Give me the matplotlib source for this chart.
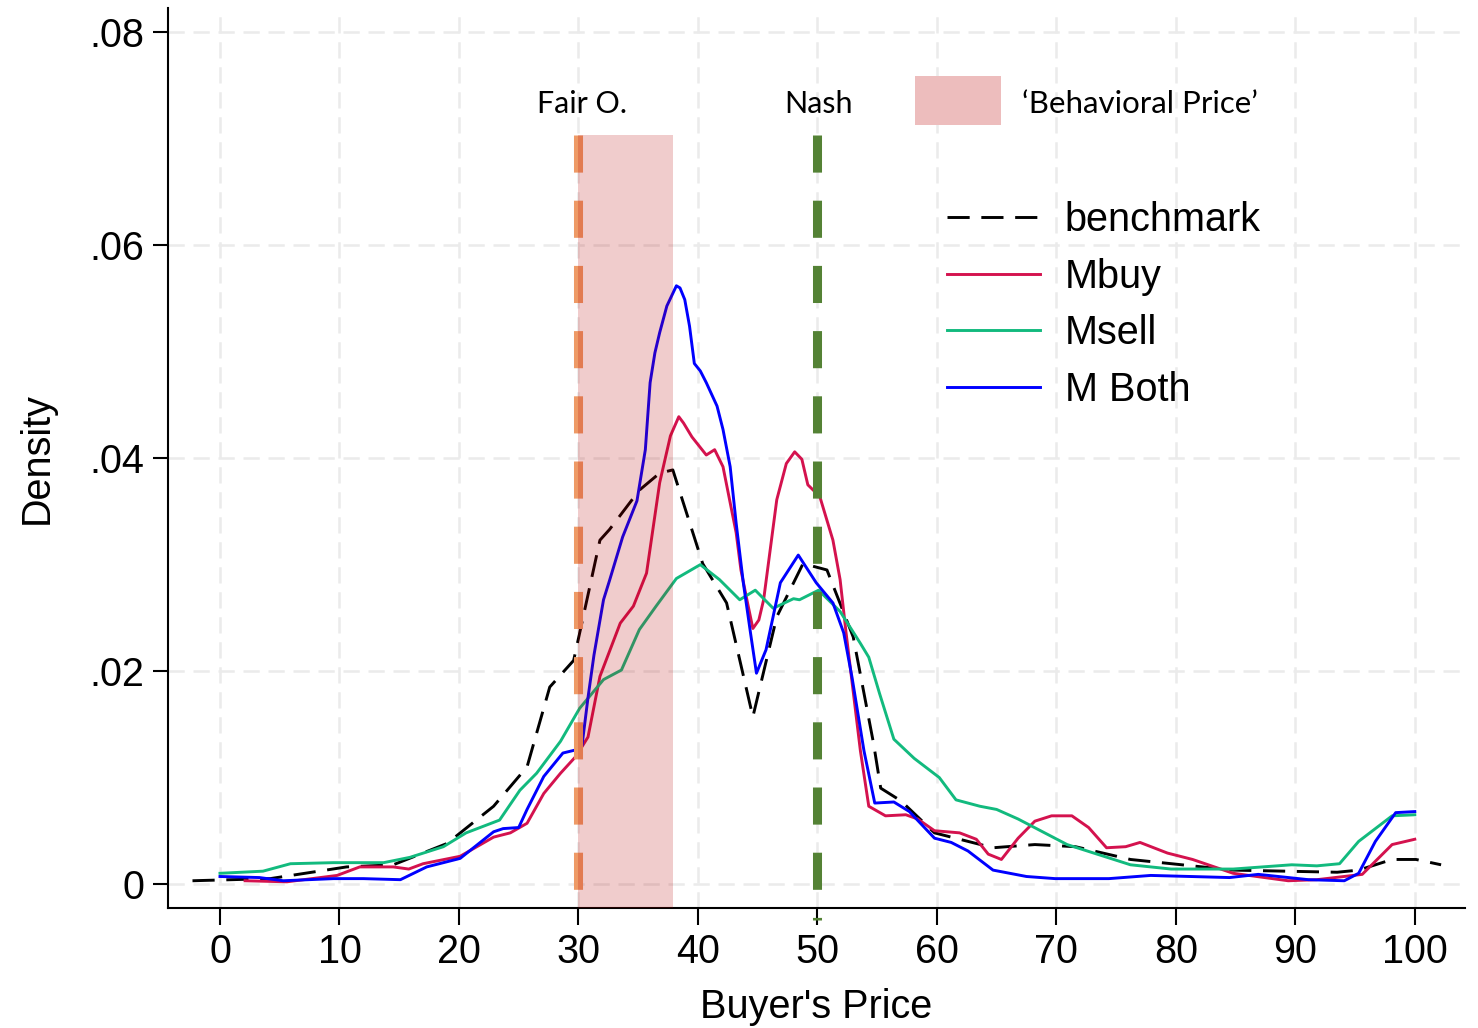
import matplotlib
matplotlib.use("Agg")
import matplotlib.pyplot as plt
from matplotlib.patches import Rectangle

# ---------------- data ----------------
bench_x = [-2.3, 4.2, 10.6, 14.5, 19.0, 22.9, 25.7, 27.6, 29.6, 30.4,
           31.8, 32.6, 35.1, 36.8, 37.9, 40.4, 42.4, 44.6, 46.6, 48.8,
           50.8, 53.0, 54.7, 55.3, 57.0, 59.8, 64.7, 68.2, 71.6, 76.2,
           84.8, 93.5, 95.3, 98.1, 100.1, 102.2]
bench_y = [0.0003, 0.0005, 0.0016, 0.0018, 0.0038, 0.0073, 0.0110, 0.0185, 0.0210, 0.0251,
           0.0323, 0.0333, 0.0370, 0.0386, 0.0389, 0.0301, 0.0264, 0.0157, 0.0251, 0.0301,
           0.0295, 0.0232, 0.0132, 0.0090, 0.0078, 0.0048, 0.0034, 0.0037, 0.0035, 0.0023,
           0.0013, 0.0011, 0.0013, 0.0023, 0.0023, 0.0018]

mbuy_x = [2.1, 5.6, 9.8, 11.7, 14.5, 15.8, 17.0, 20.1, 22.9, 24.3,
          25.7, 27.1, 28.5, 29.8, 30.8, 31.8, 33.5, 34.6, 35.7, 36.8,
          37.7, 38.4, 38.8, 39.5, 40.7, 41.4, 42.1, 43.2, 43.6, 44.1,
          44.6, 45.1, 45.5, 46.6, 47.4, 48.1, 48.7, 49.2, 50.2, 51.3,
          51.9, 52.4, 53.6, 54.3, 55.7, 57.4, 58.4, 59.8,
          61.9, 63.3, 64.3, 65.4, 66.8, 68.2, 69.6, 71.3, 72.7, 74.2,
          75.8, 77.0, 79.3, 81.4, 84.8, 89.4, 91.8, 95.6, 98.1, 100.0]
mbuy_y = [0.0003, 0.0002, 0.0008, 0.0016, 0.0016, 0.0014, 0.0019, 0.0026, 0.0044, 0.0048,
          0.0057, 0.0085, 0.0104, 0.0120, 0.0138, 0.0195, 0.0245, 0.0261, 0.0292, 0.0377,
          0.0421, 0.0439, 0.0433, 0.0420, 0.0403, 0.0408, 0.0392, 0.0330, 0.0295, 0.0267,
          0.0240, 0.0248, 0.0267, 0.0361, 0.0395, 0.0406, 0.0399, 0.0375, 0.0364, 0.0323,
          0.0286, 0.0236, 0.0125, 0.0073, 0.0064, 0.0065, 0.0061, 0.0050,
          0.0048, 0.0042, 0.0028, 0.0023, 0.0043, 0.0059, 0.0064, 0.0064, 0.0053, 0.0034,
          0.0035, 0.0039, 0.0029, 0.0023, 0.0010, 0.0003, 0.0004, 0.0009, 0.0037, 0.0042]

msell_x = [0.0, 3.6, 5.9, 9.5, 13.7, 15.9, 18.7, 20.6, 23.4, 25.1,
           26.5, 28.5, 30.1, 32.1, 33.6, 35.1, 36.5, 38.2, 40.2, 41.8,
           43.5, 44.8, 46.3, 48.0, 48.5, 50.1, 51.9, 53.6, 54.3, 55.2, 56.4,
           58.1, 60.2, 61.6, 63.6, 65.0, 66.8, 70.9, 76.2, 79.6, 84.8,
           89.7, 91.8, 93.7, 95.3, 98.1, 100.0]
msell_y = [0.0010, 0.0012, 0.0019, 0.0020, 0.0020, 0.0025, 0.0035, 0.0048, 0.0060, 0.0088,
           0.0104, 0.0134, 0.0165, 0.0192, 0.0201, 0.0239, 0.0261, 0.0287, 0.0300, 0.0286,
           0.0267, 0.0276, 0.0259, 0.0268, 0.0267, 0.0276, 0.0256, 0.0226, 0.0213, 0.0179, 0.0136,
           0.0118, 0.0100, 0.0079, 0.0073, 0.0070, 0.0061, 0.0037, 0.0018, 0.0014, 0.0014,
           0.0018, 0.0017, 0.0019, 0.0040, 0.0064, 0.0065]

mboth_x = [0.0, 3.3, 5.3, 9.5, 12.0, 15.1, 17.3, 20.1, 22.9, 23.7,
           25.0, 25.7, 27.1, 28.7, 29.8, 30.3, 30.8, 31.3, 32.1, 32.6,
           33.7, 34.9, 35.6, 36.0, 36.4, 36.8, 37.4, 38.2, 38.5, 38.9,
           39.3, 39.7, 40.2, 40.7, 41.6, 42.1, 42.7, 43.2, 43.8, 44.4,
           44.9, 45.7, 46.9, 48.4, 49.9, 51.3, 52.2, 52.9, 53.9,
           54.8, 56.4, 57.7, 59.8, 61.2, 62.6, 64.7, 67.5, 69.9, 74.4,
           77.9, 84.5, 86.9, 91.1, 94.1, 95.3, 96.7, 98.4, 100.0]
mboth_y = [0.0007, 0.0006, 0.0003, 0.0005, 0.0005, 0.0004, 0.0016, 0.0024, 0.0049, 0.0052,
           0.0053, 0.0070, 0.0101, 0.0123, 0.0126, 0.0130, 0.0175, 0.0215, 0.0267, 0.0285,
           0.0326, 0.0360, 0.0408, 0.0471, 0.0499, 0.0518, 0.0543, 0.0562, 0.0560, 0.0549,
           0.0524, 0.0489, 0.0482, 0.0471, 0.0449, 0.0427, 0.0392, 0.0339, 0.0283, 0.0236,
           0.0198, 0.0220, 0.0283, 0.0309, 0.0283, 0.0264, 0.0236, 0.0194, 0.0125,
           0.0076, 0.0077, 0.0068, 0.0043, 0.0039, 0.0031, 0.0013, 0.0007, 0.0005, 0.0005,
           0.0008, 0.0006, 0.0009, 0.0004, 0.0003, 0.0010, 0.0040, 0.0067, 0.0068]

series_labels = ["benchmark", "Mbuy", "Msell", "M Both"]
x_ticks = [0, 10, 20, 30, 40, 50, 60, 70, 80, 90, 100]
y_ticks = [0, 0.02, 0.04, 0.06, 0.08]
y_tick_labels = ["0", ".02", ".04", ".06", ".08"]

fair_price = 30
nash_price = 50
behavioral_lo, behavioral_hi = 30, 37.9
marker_top = 0.0704

# ---------------- figure ----------------
plt.rcParams['font.family'] = ['Liberation Sans', 'DejaVu Sans']
fig = plt.figure(figsize=(14.78, 10.28), dpi=100)
ax = fig.add_axes([168/1478, 120/1028, 1297/1478, 900/1028])

xmin, xmax = -4.35, 104.2
ymin, ymax = -0.00226, 0.0823
ax.set_xlim(xmin, xmax)
ax.set_ylim(ymin, ymax)

grid_kw = dict(color='#EBEBEB', lw=1.8, dashes=(6.5, 3.5), zorder=0)
for xt in x_ticks:
    ax.axvline(xt, **grid_kw)
for yt in y_ticks:
    ax.axhline(yt, **grid_kw)

lw = 2.1
ax.plot(bench_x, bench_y, color='black', lw=lw, dashes=(7.6, 4.0), label=series_labels[0], zorder=3)
ax.plot(mbuy_x, mbuy_y, color='#D4124E', lw=lw, label=series_labels[1], zorder=3)
ax.plot(msell_x, msell_y, color='#12BA7E', lw=lw, label=series_labels[2], zorder=3)
ax.plot(mboth_x, mboth_y, color='#0000FF', lw=lw, label=series_labels[3], zorder=3)

# vertical reference lines
ax.plot([fair_price, fair_price], [marker_top, ymin], color='#EE9A66', lw=6.5,
        dashes=(37/9, 28/9), solid_capstyle='butt', zorder=4, clip_on=False)
ax.plot([nash_price, nash_price], [marker_top, -0.0034], color='#548235', lw=6.5,
        dashes=(37/9, 28/9), solid_capstyle='butt', zorder=4, clip_on=False)

# behavioral price shading
ax.add_patch(Rectangle((behavioral_lo, ymin), behavioral_hi - behavioral_lo, marker_top - ymin,
                       facecolor=(0.71, 0.0, 0.0), alpha=0.2, lw=0, zorder=5))

# annotation texts
ann_font = ['Lato', 'DejaVu Sans']
ax.text(30.3, 0.0724, "Fair O.", fontsize=22, family=ann_font, ha='center', va='baseline')
ax.text(50.1, 0.0724, "Nash", fontsize=22, family=ann_font, ha='center', va='baseline')
ax.add_patch(Rectangle((58.2, 0.0713), 7.2, 0.0046, facecolor='#EDBDBD', lw=0, zorder=5))
ax.text(67.1, 0.0724, "\u2018Behavioral Price\u2019", fontsize=22.5, family=ann_font,
        ha='left', va='baseline')

# legend
fs = 28.5
leg = ax.legend(loc='upper left', bbox_to_anchor=((947-168)/1297, (908-201)/900),
                frameon=False, fontsize=fs, handlelength=2.35, handletextpad=0.62,
                labelspacing=0.47, borderpad=0, borderaxespad=0)

# axes styling
for s in ['top', 'right']:
    ax.spines[s].set_visible(False)
for s in ['left', 'bottom']:
    ax.spines[s].set_linewidth(1.5)
ax.set_xticks(x_ticks)
ax.set_xticklabels([str(t) for t in x_ticks])
ax.set_yticks(y_ticks)
ax.set_yticklabels(y_tick_labels)
ax.tick_params(axis='both', labelsize=fs, width=1.5, direction='out')
ax.tick_params(axis='y', length=11, pad=6)
ax.tick_params(axis='x', length=12, pad=6)
ax.set_xlabel("Buyer's Price", fontsize=fs, labelpad=12)
ax.set_ylabel("Density", fontsize=fs, labelpad=24)

fig.savefig("out.png", dpi=100)
